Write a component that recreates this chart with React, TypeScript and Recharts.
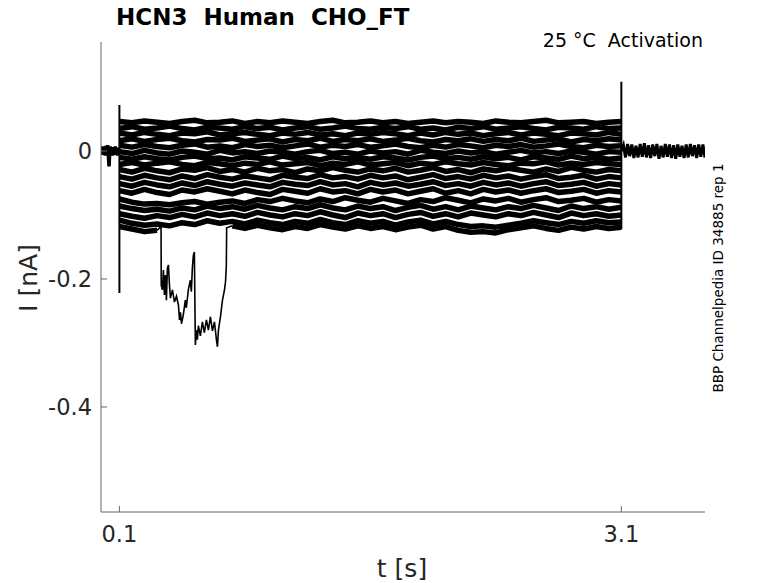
import React from "react";
import { LineChart, Line, XAxis, YAxis } from "recharts";

// ---- Data ----
const xTicks = [0.1, 3.1];
const yTicks = [-0.4, -0.2, 0];

const mainTimes = [0.1,0.175,0.25,0.325,0.4,0.475,0.55,0.625,0.7,0.775,0.85,0.925,1.0,1.075,1.15,1.225,1.3,1.375,1.45,1.525,1.6,1.675,1.75,1.825,1.9,1.975,2.05,2.125,2.2,2.275,2.35,2.425,2.5,2.575,2.65,2.725,2.8,2.875,2.95,3.025,3.1];

const trace01 = [0.046,0.044,0.047,0.045,0.043,0.046,0.048,0.044,0.045,0.047,0.043,0.046,0.044,0.047,0.045,0.043,0.046,0.048,0.044,0.045,0.047,0.044,0.046,0.043,0.045,0.047,0.044,0.046,0.045,0.043,0.047,0.045,0.044,0.046,0.048,0.044,0.045,0.046,0.043,0.045,0.046];
const trace02 = [0.035,0.038,0.034,0.036,0.039,0.035,0.033,0.037,0.036,0.034,0.038,0.035,0.037,0.033,0.036,0.038,0.034,0.036,0.039,0.035,0.034,0.037,0.035,0.038,0.034,0.036,0.033,0.037,0.035,0.038,0.034,0.036,0.038,0.035,0.033,0.037,0.036,0.034,0.038,0.035,0.036];
const trace03 = [0.028,0.025,0.029,0.026,0.024,0.028,0.027,0.030,0.025,0.027,0.029,0.026,0.024,0.028,0.026,0.029,0.025,0.027,0.024,0.028,0.026,0.029,0.027,0.024,0.028,0.025,0.029,0.026,0.028,0.024,0.027,0.029,0.025,0.028,0.026,0.024,0.028,0.027,0.025,0.029,0.026];
const trace04 = [0.016,0.019,0.015,0.018,0.020,0.016,0.014,0.018,0.017,0.020,0.015,0.017,0.019,0.014,0.018,0.016,0.020,0.015,0.018,0.016,0.019,0.015,0.017,0.020,0.016,0.014,0.018,0.016,0.019,0.015,0.018,0.016,0.020,0.015,0.017,0.019,0.014,0.018,0.016,0.019,0.017];
const trace05 = [0.009,0.006,0.010,0.007,0.005,0.009,0.011,0.006,0.008,0.005,0.010,0.007,0.009,0.005,0.008,0.011,0.006,0.009,0.007,0.010,0.006,0.008,0.011,0.007,0.005,0.009,0.006,0.010,0.008,0.005,0.009,0.007,0.010,0.006,0.008,0.011,0.007,0.005,0.009,0.007,0.008];
const trace06 = [-0.001,-0.004,0.001,-0.003,-0.005,0.000,-0.002,-0.005,0.001,-0.003,-0.001,-0.004,0.000,-0.002,-0.005,-0.001,0.001,-0.004,-0.002,-0.005,0.000,-0.003,-0.001,-0.005,0.001,-0.002,-0.004,0.000,-0.003,-0.001,-0.005,-0.002,0.001,-0.003,-0.001,-0.004,0.000,-0.002,-0.005,-0.001,-0.002];
const trace07 = [-0.010,-0.013,-0.009,-0.012,-0.014,-0.010,-0.008,-0.012,-0.011,-0.014,-0.009,-0.011,-0.013,-0.008,-0.012,-0.010,-0.014,-0.009,-0.012,-0.010,-0.013,-0.009,-0.011,-0.014,-0.010,-0.008,-0.012,-0.010,-0.013,-0.009,-0.012,-0.010,-0.014,-0.009,-0.011,-0.013,-0.008,-0.012,-0.010,-0.013,-0.011];
const trace08 = [-0.021,-0.018,-0.022,-0.019,-0.017,-0.021,-0.023,-0.018,-0.020,-0.023,-0.019,-0.021,-0.017,-0.022,-0.020,-0.018,-0.023,-0.019,-0.021,-0.017,-0.022,-0.020,-0.018,-0.023,-0.019,-0.021,-0.017,-0.020,-0.022,-0.018,-0.021,-0.023,-0.019,-0.020,-0.017,-0.022,-0.019,-0.021,-0.018,-0.020,-0.021];
const trace09 = [-0.029,-0.033,-0.027,-0.031,-0.034,-0.028,-0.030,-0.026,-0.032,-0.029,-0.033,-0.027,-0.031,-0.029,-0.034,-0.028,-0.031,-0.026,-0.030,-0.033,-0.028,-0.031,-0.027,-0.033,-0.030,-0.026,-0.032,-0.029,-0.034,-0.028,-0.031,-0.027,-0.030,-0.033,-0.028,-0.032,-0.026,-0.030,-0.033,-0.029,-0.031];
const trace10 = [-0.040,-0.044,-0.038,-0.042,-0.045,-0.039,-0.043,-0.037,-0.041,-0.044,-0.039,-0.042,-0.045,-0.038,-0.041,-0.043,-0.037,-0.042,-0.040,-0.044,-0.038,-0.042,-0.039,-0.045,-0.041,-0.037,-0.043,-0.040,-0.044,-0.038,-0.042,-0.039,-0.044,-0.040,-0.037,-0.043,-0.041,-0.038,-0.044,-0.040,-0.042];
const trace11 = [-0.051,-0.055,-0.049,-0.053,-0.056,-0.050,-0.054,-0.048,-0.052,-0.055,-0.050,-0.053,-0.056,-0.049,-0.052,-0.054,-0.048,-0.053,-0.051,-0.056,-0.049,-0.053,-0.050,-0.055,-0.052,-0.048,-0.054,-0.051,-0.055,-0.049,-0.053,-0.050,-0.055,-0.051,-0.048,-0.054,-0.052,-0.049,-0.055,-0.051,-0.053];
const trace12 = [-0.062,-0.066,-0.060,-0.065,-0.068,-0.061,-0.064,-0.059,-0.063,-0.067,-0.061,-0.065,-0.068,-0.060,-0.063,-0.066,-0.059,-0.064,-0.062,-0.067,-0.060,-0.064,-0.061,-0.067,-0.063,-0.059,-0.066,-0.062,-0.067,-0.060,-0.064,-0.061,-0.066,-0.062,-0.059,-0.065,-0.063,-0.060,-0.066,-0.062,-0.064];
const trace13 = [-0.075,-0.080,-0.083,-0.082,-0.084,-0.081,-0.079,-0.083,-0.080,-0.078,-0.082,-0.076,-0.079,-0.074,-0.078,-0.081,-0.075,-0.079,-0.073,-0.077,-0.080,-0.074,-0.078,-0.082,-0.076,-0.079,-0.073,-0.077,-0.081,-0.075,-0.078,-0.074,-0.080,-0.076,-0.073,-0.079,-0.077,-0.074,-0.080,-0.076,-0.078];
const trace14 = [-0.086,-0.090,-0.093,-0.091,-0.094,-0.089,-0.092,-0.086,-0.090,-0.087,-0.091,-0.085,-0.089,-0.092,-0.087,-0.090,-0.084,-0.089,-0.092,-0.086,-0.090,-0.087,-0.093,-0.088,-0.085,-0.091,-0.087,-0.092,-0.086,-0.089,-0.092,-0.087,-0.090,-0.085,-0.089,-0.093,-0.086,-0.090,-0.087,-0.091,-0.088];
const trace15 = [-0.098,-0.102,-0.105,-0.101,-0.104,-0.099,-0.103,-0.097,-0.101,-0.098,-0.102,-0.096,-0.100,-0.103,-0.098,-0.101,-0.095,-0.100,-0.104,-0.097,-0.101,-0.098,-0.104,-0.099,-0.096,-0.102,-0.098,-0.103,-0.097,-0.100,-0.103,-0.098,-0.101,-0.096,-0.100,-0.104,-0.097,-0.101,-0.098,-0.102,-0.100];
const trace16 = [-0.108,-0.113,-0.116,-0.114,-0.117,-0.112,-0.115,-0.109,-0.113,-0.110,-0.114,-0.108,-0.112,-0.115,-0.110,-0.113,-0.107,-0.112,-0.115,-0.109,-0.113,-0.110,-0.116,-0.111,-0.108,-0.114,-0.110,-0.115,-0.118,-0.117,-0.119,-0.116,-0.113,-0.109,-0.112,-0.115,-0.110,-0.113,-0.109,-0.112,-0.111];
// lowest sweep; null where it leaves the band (drawn by dipValues)
const trace17 = [-0.118,-0.122,-0.126,-0.124,null,null,null,null,null,-0.117,-0.121,-0.116,-0.120,-0.123,-0.118,-0.121,-0.115,-0.119,-0.122,-0.117,-0.121,-0.118,-0.123,-0.119,-0.116,-0.122,-0.118,-0.124,-0.127,-0.126,-0.128,-0.123,-0.120,-0.117,-0.121,-0.124,-0.119,-0.122,-0.118,-0.121,-0.119];

const dipTimes = [0.325,0.349,0.350,0.357,0.363,0.369,0.375,0.381,0.387,0.393,0.399,0.405,0.417,0.429,0.441,0.453,0.459,0.465,0.471,0.482,0.494,0.500,0.512,0.524,0.530,0.536,0.542,0.548,0.554,0.560,0.566,0.572,0.584,0.596,0.608,0.620,0.632,0.644,0.656,0.668,0.680,0.686,0.692,0.704,0.716,0.728,0.734,0.739,0.741,0.775];
const dipValues = [-0.124,-0.118,-0.210,-0.217,-0.186,-0.225,-0.194,-0.233,-0.183,-0.178,-0.209,-0.230,-0.217,-0.236,-0.227,-0.241,-0.264,-0.252,-0.270,-0.256,-0.233,-0.245,-0.217,-0.202,-0.220,-0.183,-0.163,-0.158,-0.303,-0.280,-0.295,-0.273,-0.289,-0.267,-0.284,-0.264,-0.280,-0.259,-0.281,-0.267,-0.295,-0.306,-0.280,-0.259,-0.233,-0.217,-0.205,-0.180,-0.120,-0.117];

const preTimes = [-0.01,-0.005,0,0.005,0.01,0.015,0.02,0.025,0.03,0.035,0.038,0.041,0.045,0.05,0.055,0.06,0.065,0.07,0.075,0.08,0.085,0.09,0.095,0.1];
const preValues = [0.006,-0.006,0.007,-0.005,0.006,-0.007,0.008,-0.006,0.009,-0.012,-0.024,-0.008,0.007,-0.006,0.006,-0.007,0.006,-0.005,0.007,-0.006,0.005,-0.007,0.004,0.0];
const onsetTransient = [0.0, 0.072, -0.222, -0.118];
const offsetTransient = [-0.122, 0.108, 0.0];
const postTimes = [3.1,3.1125,3.125,3.1375,3.15,3.1625,3.175,3.1875,3.2,3.2125,3.225,3.2375,3.25,3.2625,3.275,3.2875,3.3,3.3125,3.325,3.3375,3.35,3.3625,3.375,3.3875,3.4,3.4125,3.425,3.4375,3.45,3.4625,3.475,3.4875,3.5,3.5125,3.525,3.5375,3.55,3.5625,3.575,3.5875,3.6];
const postValues = [0.0,0.009,-0.010,0.011,-0.008,0.010,-0.011,0.008,-0.010,0.011,-0.009,0.012,-0.010,0.009,-0.011,0.010,-0.008,0.011,-0.012,0.008,-0.010,0.011,-0.009,0.010,-0.011,0.009,-0.012,0.010,-0.009,0.008,-0.011,0.010,-0.010,0.011,-0.008,0.009,-0.011,0.010,-0.009,0.010,-0.010];

// ---- Build series ----
const bandTraces = [trace01,trace02,trace03,trace04,trace05,trace06,trace07,trace08,trace09,trace10,trace11,trace12,trace13,trace14,trace15,trace16,trace17];
const bandSeries = bandTraces.map((vals) => vals.map((v, i) => ({ t: mainTimes[i], v })));
const dipSeries = dipTimes.map((t, i) => ({ t, v: dipValues[i] }));
const preSeries = preTimes.map((t, i) => ({ t, v: preValues[i] }));
const postSeries = postTimes.map((t, i) => ({ t, v: postValues[i] }));
const transientSeries = [
  ...onsetTransient.map((v) => ({ t: 0.1, v })),
  { t: 1.6, v: null },
  ...offsetTransient.map((v) => ({ t: 3.1, v })),
];

const FONT = "'DejaVu Sans', sans-serif";
const AXIS = "#666666";
const TXT = "#262626";

const XTick = (props: any) => {
  const { x, y, payload } = props;
  return (
    <g>
      <line x1={x} y1={y} x2={x} y2={y - 6} stroke={AXIS} strokeWidth={1} />
      <text x={x} y={y + 30} textAnchor="middle" fontSize={22.5} fontFamily={FONT} fill={TXT}>
        {String(payload.value)}
      </text>
    </g>
  );
};

const YTick = (props: any) => {
  const { x, y, payload } = props;
  return (
    <g>
      <line x1={x} y1={y} x2={x + 6} y2={y} stroke={AXIS} strokeWidth={1} />
      <text x={x - 9} y={y + 8} textAnchor="end" fontSize={22.5} fontFamily={FONT} fill={TXT}>
        {String(payload.value)}
      </text>
    </g>
  );
};

export default function App() {
  return (
    <div style={{ position: "absolute", left: 0, top: 0, width: 778, height: 583, background: "#fff" }}>
      <LineChart width={778} height={583} margin={{ top: 42, right: 73, bottom: 31, left: 41 }}>
        <XAxis
          type="number"
          dataKey="t"
          domain={[-0.01, 3.6]}
          ticks={xTicks}
          allowDataOverflow
          height={40}
          tickSize={0}
          tickMargin={0}
          tickLine={false}
          axisLine={{ stroke: AXIS, strokeWidth: 1 }}
          tick={<XTick />}
          interval={0}
        />
        <YAxis
          type="number"
          dataKey="v"
          domain={[-0.5641, 0.1703]}
          ticks={yTicks}
          allowDataOverflow
          width={60}
          tickSize={0}
          tickMargin={0}
          tickLine={false}
          axisLine={{ stroke: AXIS, strokeWidth: 1 }}
          tick={<YTick />}
          interval={0}
        />
        {bandSeries.map((d, i) => (
          <Line
            key={"band" + i}
            data={d}
            dataKey="v"
            stroke="#000"
            strokeWidth={5.5}
            strokeLinejoin="round"
            dot={false}
            activeDot={false}
            isAnimationActive={false}
          />
        ))}
        <Line data={dipSeries} dataKey="v" stroke="#000" strokeWidth={1.6} dot={false} activeDot={false} isAnimationActive={false} />
        <Line data={preSeries} dataKey="v" stroke="#000" strokeWidth={3.5} dot={false} activeDot={false} isAnimationActive={false} />
        <Line data={postSeries} dataKey="v" stroke="#000" strokeWidth={3} dot={false} activeDot={false} isAnimationActive={false} />
        <Line data={transientSeries} dataKey="v" stroke="#000" strokeWidth={2} dot={false} activeDot={false} isAnimationActive={false} />
      </LineChart>
      <svg width={778} height={583} style={{ position: "absolute", left: 0, top: 0, pointerEvents: "none" }}>
        <text x={116} y={25} fontSize={23} fontWeight="bold" fontFamily={FONT} fill="#000" style={{ whiteSpace: "pre" }}>
          {"HCN3  Human  CHO_FT"}
        </text>
        <text x={703} y={47} textAnchor="end" fontSize={19} fontFamily={FONT} fill="#000" style={{ whiteSpace: "pre" }}>
          {"25 °C  Activation"}
        </text>
        <text x={402} y={577} textAnchor="middle" fontSize={25} fontFamily={FONT} fill={TXT}>
          t [s]
        </text>
        <text x={37} y={278} textAnchor="middle" fontSize={25} fontFamily={FONT} fill={TXT} transform="rotate(-90 37 278)">
          I [nA]
        </text>
        <text x={723} y={278} textAnchor="middle" fontSize={13.5} fontFamily={FONT} fill="#000" transform="rotate(-90 723 278)">
          BBP Channelpedia ID 34885 rep 1
        </text>
      </svg>
    </div>
  );
}
